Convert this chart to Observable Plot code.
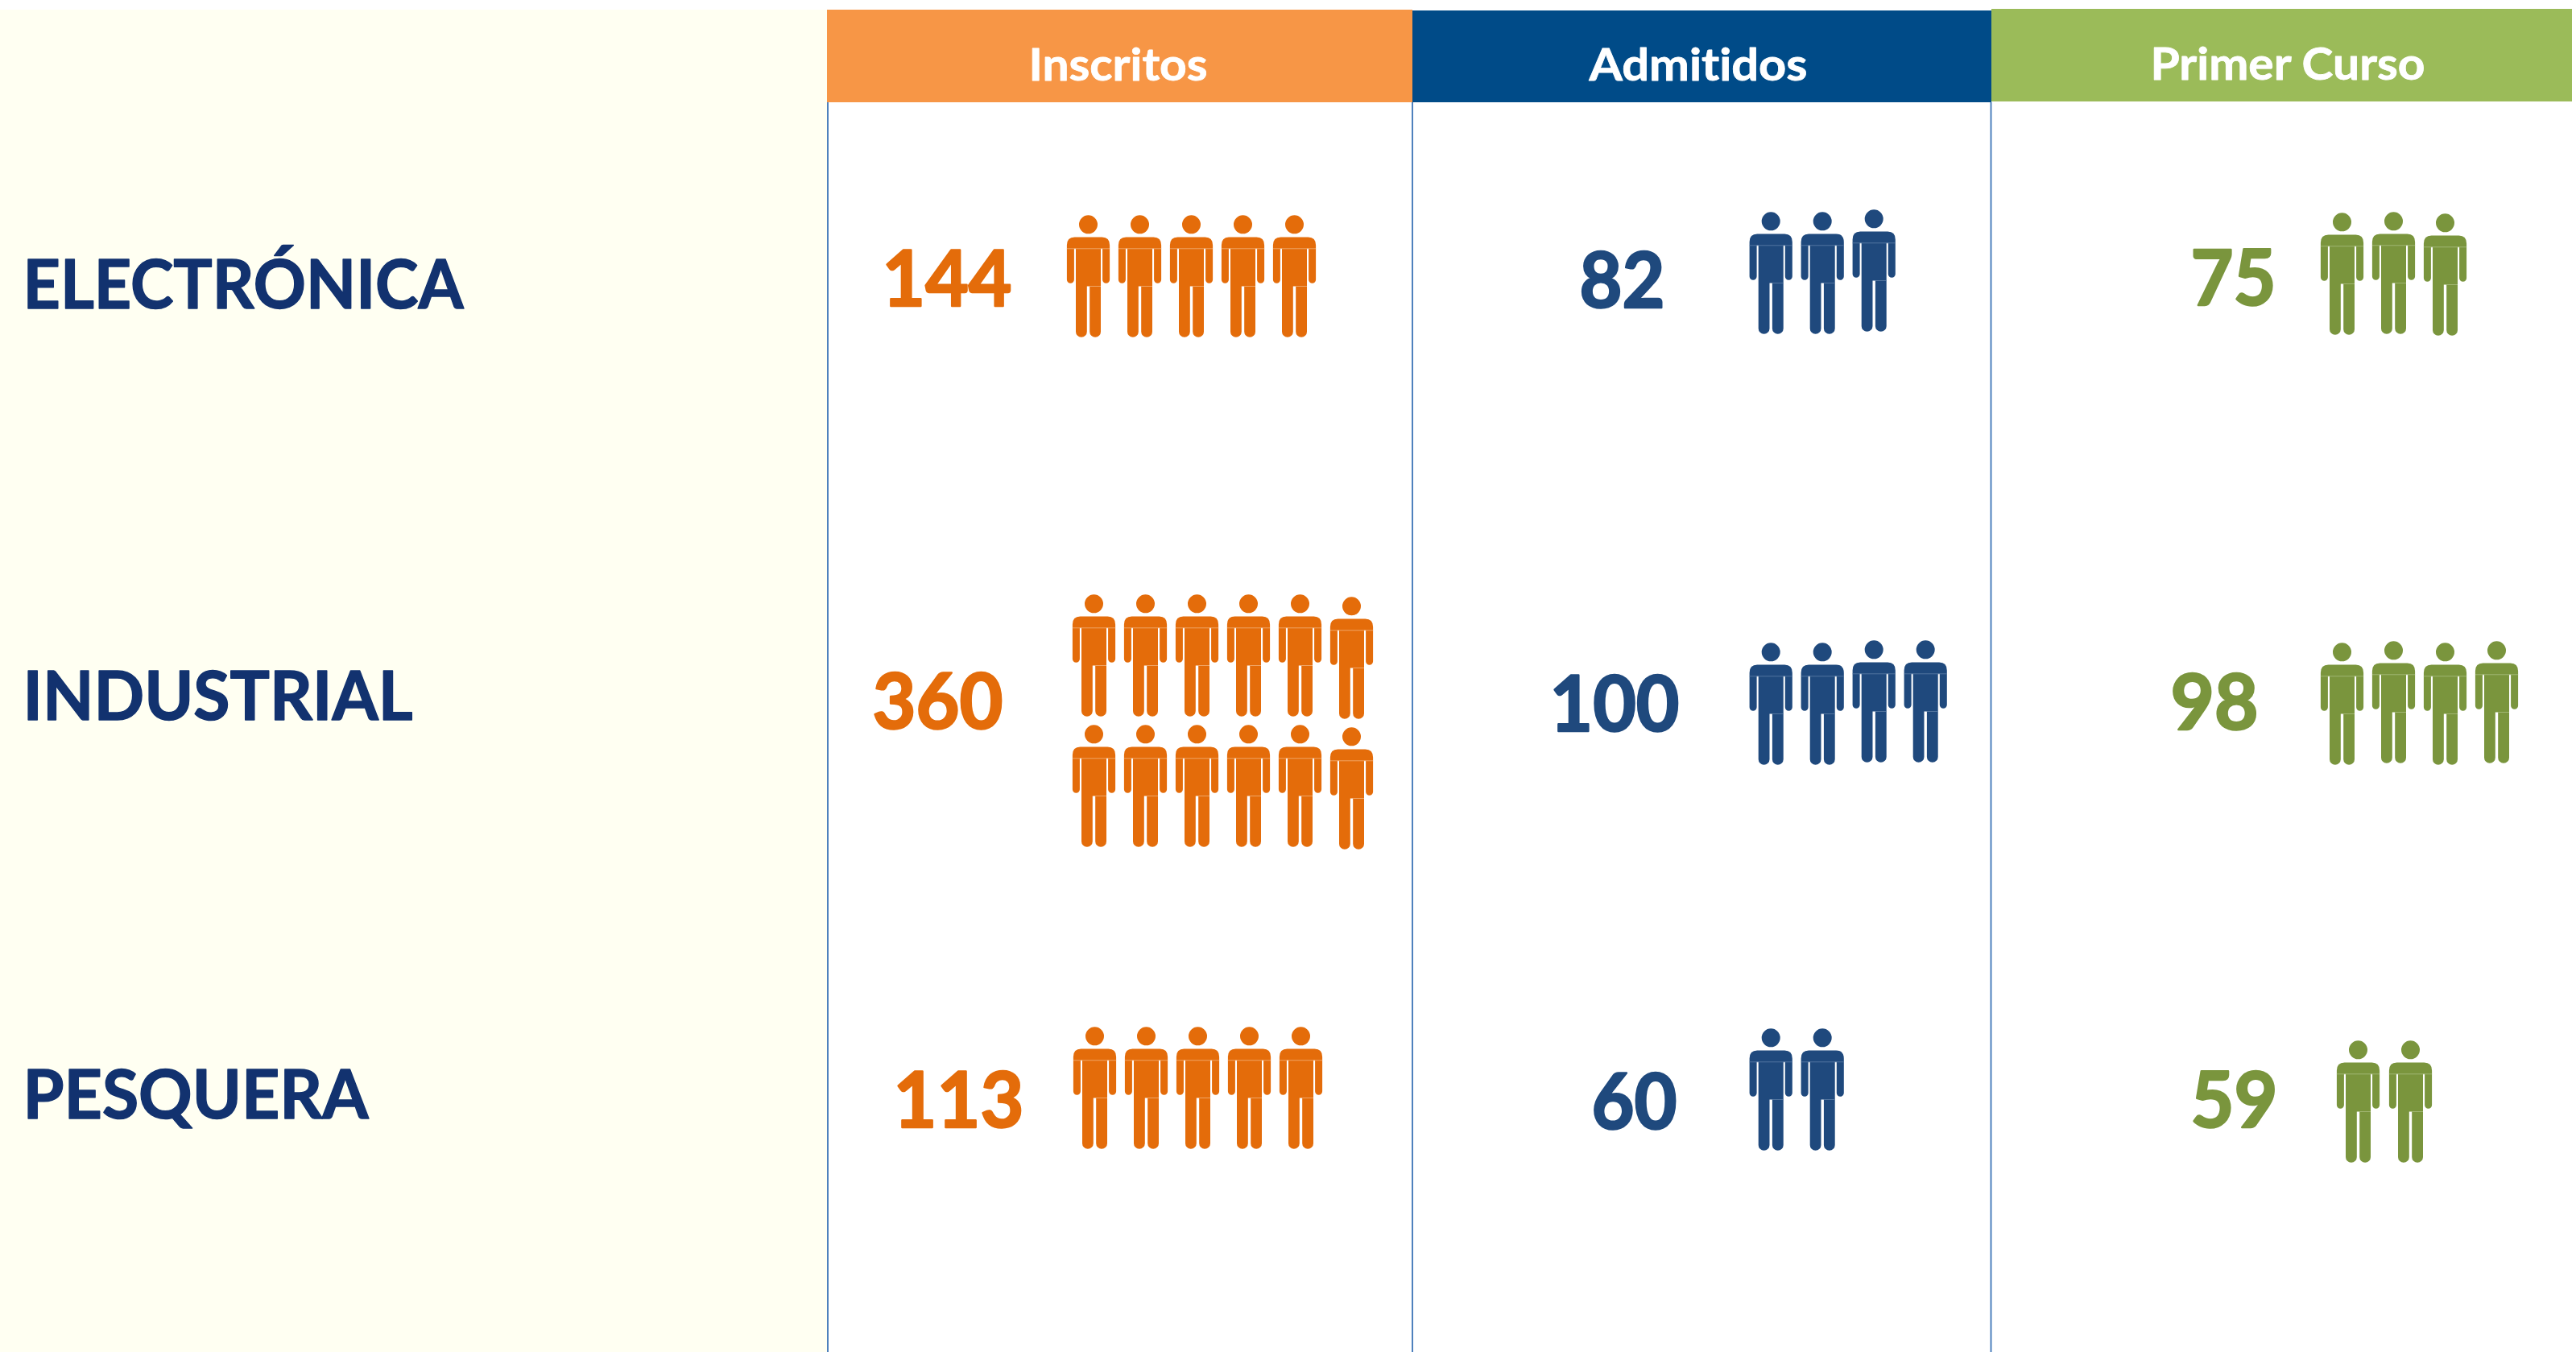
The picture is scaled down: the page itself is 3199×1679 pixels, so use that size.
<!DOCTYPE html>
<html lang="es">
<head>
<meta charset="utf-8">
<style>html,body{margin:0;padding:0;background:#fff}svg{display:block}</style>
<script src="https://cdn.jsdelivr.net/npm/d3@7"></script>
<script src="https://cdn.jsdelivr.net/npm/@observablehq/plot@0.6"></script>
</head>
<body>
<div id="chart"></div>
<script>
// ---- data ----
const careers = ["ELECTRÓNICA", "INDUSTRIAL", "PESQUERA"];
const stages = ["Inscritos", "Admitidos", "Primer Curso"];
const inscritos = [144, 360, 113];
const admitidos = [82, 100, 60];
const primerCurso = [75, 98, 59];
const iconsInscritos = [5, 12, 5];
const iconsAdmitidos = [3, 4, 2];
const iconsPrimerCurso = [3, 4, 2];

// ---- layout and style, apart from the data ----
const W = 3199, H = 1679;
const stageStyle = {
  "Inscritos": {head: "#F79646", ink: "#E46C0A", seam: "#F3B27C", x1: 1027, x2: 1754, top: 12, bottom: 127},
  "Admitidos": {head: "#004B88", ink: "#1F497D", seam: "#5F80A8", x1: 1754, x2: 2473, top: 13, bottom: 127},
  "Primer Curso": {head: "#9BBB59", ink: "#7A953D", seam: "#A9BE80", x1: 2473, x2: 3194, top: 11, bottom: 126}
};
const ruleX = [1027.5, 1753.5, 2472];
const careerBase = [382, 893, 1388];
const careerX = [28, 28, 28];
const careerW = [547, 484, 429];
const headLabel = {"Inscritos": [1277, 99, 222], "Admitidos": [1973, 99, 271], "Primer Curso": [2670, 98, 341]};
const numberPos = {
  "Inscritos": [[1095, 379, 161], [1083, 904, 162], [1109, 1399, 162]],
  "Admitidos": [[1961, 381, 106], [1924, 907, 161], [1976, 1401, 106]],
  "Primer Curso": [[2720, 378, 106], [2695, 905, 109], [2720, 1399, 108]]
};
const step = 64;
const iconX = {
  "Inscritos": [1351, 1358, 1359],
  "Admitidos": [2198.7, 2198.7, 2198.7],
  "Primer Curso": [2908, 2908, 2928]
};
const iconY = {
  "Inscritos": [[294, 294, 294, 294, 294], [765, 765, 765, 765, 765, 768, 927, 927, 927, 927, 927, 930], [1302, 1302, 1302, 1302, 1302]],
  "Admitidos": [[290, 290, 287], [825, 825, 822, 822], [1304, 1304]],
  "Primer Curso": [[291, 290, 292], [825, 823, 825, 823], [1319, 1319]]
};
const iconStep = {"Primer Curso": [64, 64, 65]};

const seriesValues = {"Inscritos": inscritos, "Admitidos": admitidos, "Primer Curso": primerCurso};
const seriesIcons = {"Inscritos": iconsInscritos, "Admitidos": iconsAdmitidos, "Primer Curso": iconsPrimerCurso};

const numberRows = stages.flatMap(s => careers.map((c, i) => ({
  stage: s, career: c, label: String(seriesValues[s][i]),
  x: numberPos[s][i][0], y: numberPos[s][i][1], w: numberPos[s][i][2]
})));
const iconRows = stages.flatMap(s => careers.flatMap((c, i) =>
  d3.range(seriesIcons[s][i]).map(k => ({
    stage: s, career: c,
    x: iconX[s][i] + (k % 6) * ((iconStep[s] || [])[i] || step),
    y: iconY[s][i][k]
  }))));

// Person pictogram, anchored at the middle of the shoulder line.
const person = {
  draw(p) {
    p.moveTo(11.5, -15.7);
    p.arc(0, -15.7, 11.5, 0, 2 * Math.PI);
    p.closePath();
    p.moveTo(-17, 0);
    p.lineTo(17, 0);
    p.quadraticCurveTo(26.6, 0, 26.6, 10);
    p.lineTo(26.6, 52.8);
    p.arc(22.1, 52.8, 4.5, 0, Math.PI);
    p.lineTo(17.6, 14.3);
    p.lineTo(15.5, 14.3);
    p.lineTo(15.5, 117.4);
    p.arc(8.6, 117.4, 6.9, 0, Math.PI);
    p.lineTo(1.7, 61);
    p.lineTo(-1.7, 61);
    p.lineTo(-1.7, 117.4);
    p.arc(-8.6, 117.4, 6.9, 0, Math.PI);
    p.lineTo(-15.5, 14.3);
    p.lineTo(-17.6, 14.3);
    p.lineTo(-17.6, 52.8);
    p.arc(-22.1, 52.8, 4.5, 0, Math.PI);
    p.lineTo(-26.6, 10);
    p.quadraticCurveTo(-26.6, 0, -17, 0);
    p.closePath();
  }
};
const seam = {
  draw(p) {
    p.moveTo(-26.6, 14.3);
    p.lineTo(26.6, 14.3);
    p.moveTo(1.7, 61);
    p.lineTo(15.5, 61);
  }
};

const font = {fontFamily: "Lato", fontWeight: 700};
const marks = [
  Plot.rect([0], {x1: 0, x2: 1027, y1: 12, y2: H, fill: "#FFFFF2"}),
  Plot.ruleX(ruleX, {y1: 127, y2: H, stroke: "#4F81BD", strokeWidth: 2})
];
for (const s of stages) {
  const st = stageStyle[s];
  marks.push(
    Plot.rect([s], {x1: st.x1, x2: st.x2, y1: st.top, y2: st.bottom, fill: st.head}),
    Plot.text([s], {x: headLabel[s][0], y: headLabel[s][1], text: d => d, fill: "#fff", stroke: "#fff", strokeWidth: 0.8,
      fontSize: 56, textAnchor: "start", lineAnchor: "bottom", ...font}),
    Plot.text(numberRows.filter(d => d.stage === s), {x: "x", y: "y", text: "label", fill: st.ink, stroke: st.ink, strokeWidth: 2.5,
      fontSize: 95, textAnchor: "start", lineAnchor: "bottom", ...font}),
    Plot.dot(iconRows.filter(d => d.stage === s), {x: "x", y: "y", symbol: person, r: 1, fill: st.ink}),
    Plot.dot(iconRows.filter(d => d.stage === s), {x: "x", y: "y", symbol: seam, r: 1, fill: "none", stroke: st.seam, strokeWidth: 0.8})
  );
}
marks.push(Plot.text(careers, {
  x: (d, i) => careerX[i], y: (d, i) => careerBase[i], text: d => d, fill: "#12326F", stroke: "#12326F", strokeWidth: 1.5,
  fontSize: 85, textAnchor: "start", lineAnchor: "bottom", ...font
}));

const svg = Plot.plot({
  width: W, height: H,
  margin: 0,
  x: {domain: [0, W], range: [0, W], axis: null},
  y: {domain: [0, H], range: [0, H], axis: null},
  style: {background: "#fff", fontVariantLigatures: "none"},
  marks
});

// Calibri is narrower than any installed face: fit each label to its measured width.
const fit = new Map();
careers.forEach((c, i) => fit.set(c, careerW[i]));
stages.forEach(s => fit.set(s, headLabel[s][2]));
svg.querySelectorAll("text").forEach(t => {
  const key = t.textContent;
  let w = fit.get(key);
  if (w == null) {
    const row = numberRows.find(d => d.label === key);
    if (row) w = row.w;
  }
  if (w != null) {
    t.setAttribute("textLength", w);
    t.setAttribute("lengthAdjust", "spacingAndGlyphs");
  }
});
document.getElementById("chart").append(svg);
</script>
</body>
</html>
